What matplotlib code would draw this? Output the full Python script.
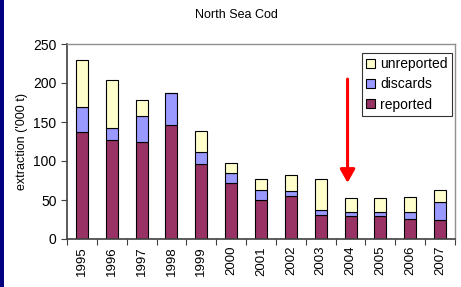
import numpy as np
import matplotlib
matplotlib.use('Agg')
import matplotlib.pyplot as plt
from matplotlib.patches import Rectangle

plt.rcParams['font.family'] = ['Liberation Sans', 'DejaVu Sans']

# Data ('000 t)
years = ['1995', '1996', '1997', '1998', '1999', '2000', '2001',
         '2002', '2003', '2004', '2005', '2006', '2007']
reported = [137, 127, 124, 146, 96, 72, 50, 55, 31, 29, 29, 26, 24]
discards = [32, 15, 34, 41, 15, 13, 13, 6, 6, 5, 6, 9, 24]
unreported = [61, 62, 20, 0, 28, 12, 14, 21, 40, 18, 18, 19, 15]

# Arrow pointing at 2004
arrow_year = '2004'
arrow_from = 205
arrow_to = 72

fig = plt.figure(figsize=(4.61, 2.87), dpi=100)
fig.patch.set_facecolor('white')

# navy strip on the left (slide background)
fig.patches.append(Rectangle((0, 0), 4 / 461, 1, transform=fig.transFigure,
                             facecolor='#000080', edgecolor='none'))

ax = fig.add_axes([67 / 461, 1 - 239 / 287, 388 / 461, 195 / 287])

x = np.arange(len(years))
rep = np.array(reported)
dis = np.array(discards)
unr = np.array(unreported)

b1 = ax.bar(x, rep, width=0.4, color='#993366', edgecolor='black', lw=0.8, label='reported')
b2 = ax.bar(x, dis, width=0.4, bottom=rep, color='#9999FF', edgecolor='black', lw=0.8, label='discards')
b3 = ax.bar(x, unr, width=0.4, bottom=rep + dis, color='#FFFFCC', edgecolor='black', lw=0.8, label='unreported')

ax.set_xlim(-0.5, len(years) - 0.5)
ax.set_ylim(0, 250)
ax.set_yticks([0, 50, 100, 150, 200, 250])
ax.tick_params(axis='y', labelsize=10, length=4, direction='out', color='#404040')

# ticks between the categories, labels in the middle
ax.set_xticks(np.arange(-0.5, len(years), 1.0))
ax.set_xticklabels([])
ax.set_xticks(x, minor=True)
ax.set_xticklabels(years, minor=True, rotation=90, fontsize=9.5)
ax.tick_params(axis='x', which='major', length=4, direction='out', color='#404040')
ax.tick_params(axis='x', which='minor', length=0, pad=5)

ax.set_ylabel("extraction ('000 t)", fontsize=9)

for s in ['left', 'bottom']:
    ax.spines[s].set_color('#404040')
    ax.spines[s].set_linewidth(1.2)
for s in ['top', 'right']:
    ax.spines[s].set_color('#909090')
    ax.spines[s].set_linewidth(1.0)

# Red arrow
xi = years.index(arrow_year) - 0.1
ax.annotate('', xy=(xi, arrow_to), xytext=(xi, arrow_from),
            arrowprops=dict(arrowstyle='-|>,head_length=0.8,head_width=0.45',
                            mutation_scale=10, color='red', lw=2.2,
                            shrinkA=0, shrinkB=0))

leg = ax.legend(handles=[b3, b2, b1], loc='upper left',
                bbox_to_anchor=((362 - 67) / 388, (239 - 53) / 195),
                borderaxespad=0, fontsize=10, frameon=True, fancybox=False,
                handlelength=0.6, handleheight=0.6, handletextpad=0.4,
                labelspacing=0.45, borderpad=0.3)
leg.get_frame().set_edgecolor('black')
leg.get_frame().set_linewidth(0.8)

fig.text(236 / 461, 1 - 15 / 287, 'North Sea Cod', ha='center', va='center', fontsize=9)

fig.savefig('out.png', dpi=100)
